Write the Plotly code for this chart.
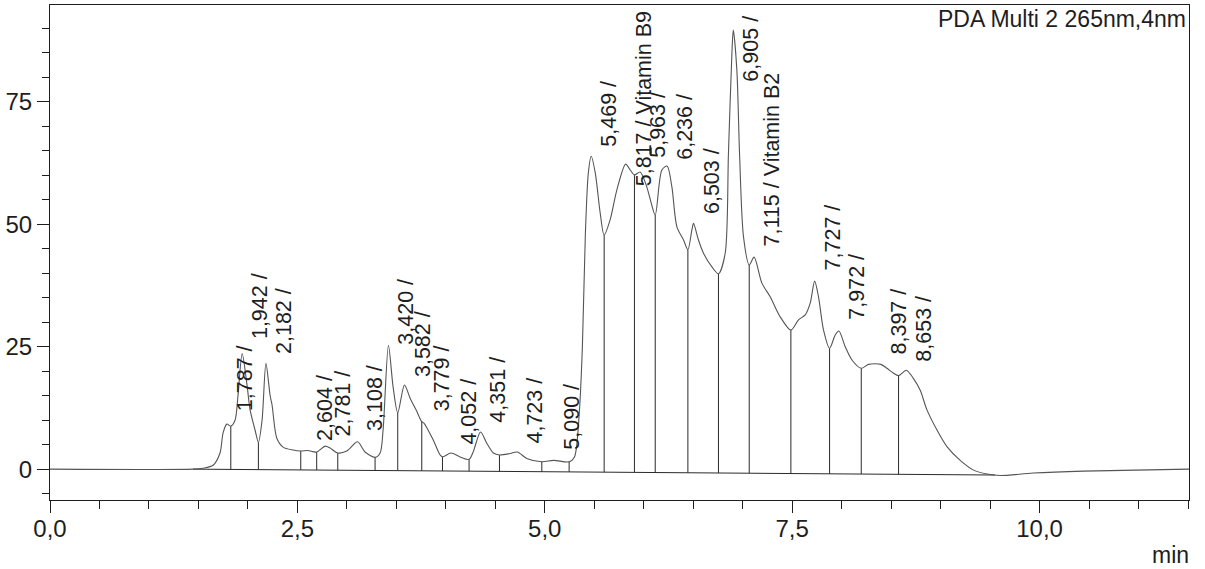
import numpy as np
import plotly.graph_objects as go

# ---- chromatogram trace (PDA channel 2, 265 nm) ----
time_min = [
    0.000, 1.445, 1.547, 1.648, 1.718, 1.749, 1.787, 1.827, 1.870, 1.900,
    1.942, 1.991, 2.022, 2.072, 2.106, 2.143, 2.182, 2.224, 2.244, 2.292,
    2.355, 2.456, 2.534, 2.604, 2.695, 2.781, 2.830, 2.908, 2.999, 3.108,
    3.184, 3.285, 3.336, 3.366, 3.420, 3.467, 3.514, 3.582, 3.639, 3.700,
    3.757, 3.779, 3.874, 3.942, 3.966, 4.052, 4.144, 4.235, 4.276, 4.351,
    4.414, 4.481, 4.542, 4.650, 4.723, 4.818, 4.970, 5.090, 5.246, 5.300,
    5.350, 5.380, 5.410, 5.440, 5.469, 5.510, 5.560, 5.600, 5.660, 5.728,
    5.817, 5.863, 5.906, 5.963, 6.025, 6.075, 6.116, 6.183, 6.236, 6.284,
    6.335, 6.402, 6.446, 6.486, 6.503, 6.553, 6.604, 6.689, 6.755, 6.823,
    6.856, 6.891, 6.905, 6.941, 6.968, 7.008, 7.066, 7.115, 7.194, 7.278,
    7.379, 7.487, 7.564, 7.632, 7.682, 7.727, 7.766, 7.817, 7.878, 7.935,
    7.972, 8.036, 8.104, 8.198, 8.271, 8.397, 8.458, 8.524, 8.575, 8.653,
    8.726, 8.794, 8.862, 8.963, 9.064, 9.198, 9.333, 9.469, 9.603, 9.936,
    10.442, 11.510,
]
signal_mau = [
    0.0, 0.0, 0.2, 0.8, 3.3, 7.4, 9.2, 8.8, 10.0, 15.1,
    23.6, 17.2, 12.1, 8.0, 5.5, 10.0, 21.6, 15.1, 13.1, 6.3,
    4.5, 3.9, 3.7, 3.8, 3.5, 4.7, 4.3, 3.3, 3.7, 5.6,
    3.5, 2.4, 3.3, 8.0, 25.3, 16.8, 11.5, 17.2, 14.5, 12.1,
    9.7, 9.4, 5.9, 2.9, 2.5, 3.3, 2.5, 2.0, 3.5, 7.6,
    5.3, 3.3, 2.9, 3.2, 3.5, 2.2, 1.5, 1.8, 1.5, 2.5,
    12.0, 25.0, 48.0, 60.5, 63.9, 60.5, 52.3, 47.8, 50.9, 57.0,
    62.3, 61.1, 60.1, 60.7, 58.0, 54.4, 51.9, 61.1, 61.9, 57.7,
    49.5, 46.8, 44.8, 48.8, 50.2, 46.8, 44.1, 41.3, 39.9, 44.1,
    64.5, 85.0, 89.7, 81.5, 64.5, 47.5, 41.7, 43.3, 38.0, 35.2,
    31.1, 28.4, 30.5, 31.5, 33.9, 38.4, 35.2, 28.4, 24.7, 27.4,
    28.2, 25.0, 22.3, 20.6, 21.4, 21.4, 20.6, 19.6, 19.1, 20.2,
    18.5, 16.1, 12.1, 8.0, 4.6, 1.8, -0.2, -1.0, -1.3, -0.8,
    -0.4, 0.0,
]

# ---- integration results ----
peak_rt = [1.787, 1.942, 2.182, 2.604, 2.781, 3.108, 3.420, 3.582, 3.779, 4.052,
           4.351, 4.723, 5.090, 5.469, 5.817, 5.963, 6.236, 6.503, 6.905, 7.115,
           7.727, 7.972, 8.397, 8.653]
peak_name = ["", "", "", "", "", "", "", "", "", "",
             "", "", "", "", "Vitamin B9", "", "", "", "", "Vitamin B2",
             "", "", "", ""]
cut_times = [1.827, 2.106, 2.534, 2.695, 2.908, 3.285, 3.514, 3.757, 3.966, 4.235,
             4.542, 4.970, 5.246, 5.600, 5.906, 6.116, 6.446, 6.755, 7.066, 7.487,
             7.878, 8.198, 8.575]
baseline_start = (1.445, 0.0)
baseline_end = (9.550, -1.2)

# label anchor heights (where each vertical peak label begins)
label_base = [11.4, 26.2, 23.1, 5.3, 6.3, 7.3, 25.1, 18.5, 11.4, 4.6,
              9.0, 4.9, 3.5, 65.5, 57.4, 63.2, 62.8, 51.6, 78.8, 45.1,
              40.1, 30.1, 23.0, 21.6]

FONT = "Liberation Sans, Arial, sans-serif"
INK = "#1e1e1e"

t_arr = np.array(time_min)
s_arr = np.array(signal_mau)
bx = [baseline_start[0], baseline_end[0]]
by = [baseline_start[1], baseline_end[1]]

fig = go.Figure()

# integration baseline
fig.add_trace(go.Scatter(x=bx, y=by, mode="lines",
                         line=dict(color="#2a2a2a", width=1), hoverinfo="skip"))

# drop lines at peak boundaries
dx, dy = [], []
for c in cut_times:
    top = float(np.interp(c, t_arr, s_arr))
    bot = float(np.interp(c, bx, by))
    dx += [c, c, None]
    dy += [bot, top, None]
fig.add_trace(go.Scatter(x=dx, y=dy, mode="lines",
                         line=dict(color="#2a2a2a", width=1), hoverinfo="skip"))

# signal
fig.add_trace(go.Scatter(x=time_min, y=signal_mau, mode="lines",
                         line=dict(color="#555555", width=1.1, shape="spline", smoothing=0.8),
                         hoverinfo="skip"))

annotations = []
for rt, name, yb in zip(peak_rt, peak_name, label_base):
    txt = f"{rt:.3f}".replace(".", ",") + " / " + name
    annotations.append(dict(
        x=rt, y=yb, xref="x", yref="y", text=txt.rstrip(), showarrow=False,
        textangle=-90, xanchor="center", yanchor="bottom", xshift=18,
        font=dict(family=FONT, size=21.5, color=INK)))

annotations.append(dict(x=1, y=1, xref="paper", yref="paper", xanchor="right", yanchor="top",
                        text="PDA Multi 2 265nm,4nm", showarrow=False, xshift=-1, yshift=1,
                        font=dict(family=FONT, size=23, color=INK)))
annotations.append(dict(x=1, y=0, xref="paper", yref="paper", xanchor="right", yanchor="top",
                        text="min", showarrow=False, yshift=-40, xshift=2,
                        font=dict(family=FONT, size=23, color=INK)))

fig.update_layout(
    width=1205, height=569,
    margin=dict(l=50, r=16, t=5, b=69),
    paper_bgcolor="white", plot_bgcolor="white",
    showlegend=False, separators=", ",
    annotations=annotations,
    font=dict(family=FONT, color=INK),
)
fig.update_xaxes(
    range=[0, 11.51], showline=True, linecolor=INK, linewidth=1, mirror=True,
    ticks="outside", ticklen=12, tickcolor=INK, tickwidth=1,
    tick0=0, dtick=2.5, tickformat=".1f", showgrid=False, zeroline=False,
    tickfont=dict(family=FONT, size=24, color=INK), ticklabelstandoff=-5,
    minor=dict(dtick=0.5, tick0=0, ticks="outside", ticklen=8, tickcolor=INK, showgrid=False),
)
fig.update_yaxes(
    range=[-6.3, 94.8], showline=True, linecolor=INK, linewidth=1, mirror=True,
    ticks="outside", ticklen=12, tickcolor=INK, tickwidth=1,
    tick0=0, dtick=25, tickformat="d", showgrid=False, zeroline=False,
    tickfont=dict(family=FONT, size=24, color=INK),
    minor=dict(dtick=5, tick0=0, ticks="outside", ticklen=7, tickcolor=INK, showgrid=False),
)

fig.write_html("out.html")
